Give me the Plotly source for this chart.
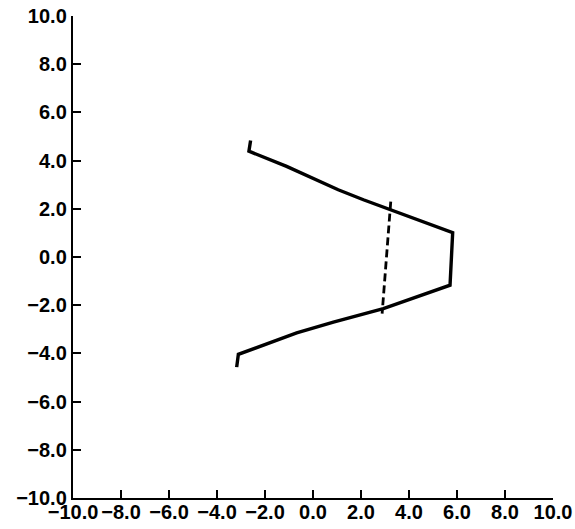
import plotly.graph_objects as go

# Solid outline path
path_x = [-2.60, -2.67, -1.10, 1.05, 2.10, 5.82, 5.71, 2.93, 0.85, -0.68, -3.11, -3.18]
path_y = [4.83, 4.39, 3.76, 2.79, 2.375, 1.01, -1.17, -2.14, -2.70, -3.15, -4.04, -4.57]

# Dashed line
dash_x = [3.24, 2.88]
dash_y = [2.30, -2.35]

tick_vals = [-10, -8, -6, -4, -2, 0, 2, 4, 6, 8, 10]
tick_text = ["\u221210.0", "\u22128.0", "\u22126.0", "\u22124.0", "\u22122.0", "0.0", "2.0", "4.0", "6.0", "8.0", "10.0"]

fig = go.Figure()
fig.add_trace(go.Scatter(x=path_x, y=path_y, mode="lines",
                         line=dict(color="black", width=3.4), showlegend=False))
fig.add_trace(go.Scatter(x=dash_x, y=dash_y, mode="lines",
                         line=dict(color="black", width=2.8, dash="8px,4px"), showlegend=False))

font = dict(family="Liberation Sans", size=20, color="black", weight="bold")
axis_common = dict(range=[-10, 10], tickvals=tick_vals, ticktext=tick_text,
                   showgrid=False, zeroline=False, showline=True, linewidth=2.4,
                   linecolor="black", ticks="inside", ticklen=8, tickwidth=2,
                   tickcolor="black", tickfont=font, automargin=False)

fig.update_layout(
    width=575, height=529,
    margin=dict(l=73, r=22, t=16, b=31),
    paper_bgcolor="white", plot_bgcolor="white",
    xaxis=dict(**axis_common, ticklabelstandoff=-5),
    yaxis=dict(**axis_common, ticklabelstandoff=0),
)

fig.write_html("out.html", config={"displayModeBar": False},
               post_script="document.body.style.margin='0';document.body.style.overflow='hidden';")
